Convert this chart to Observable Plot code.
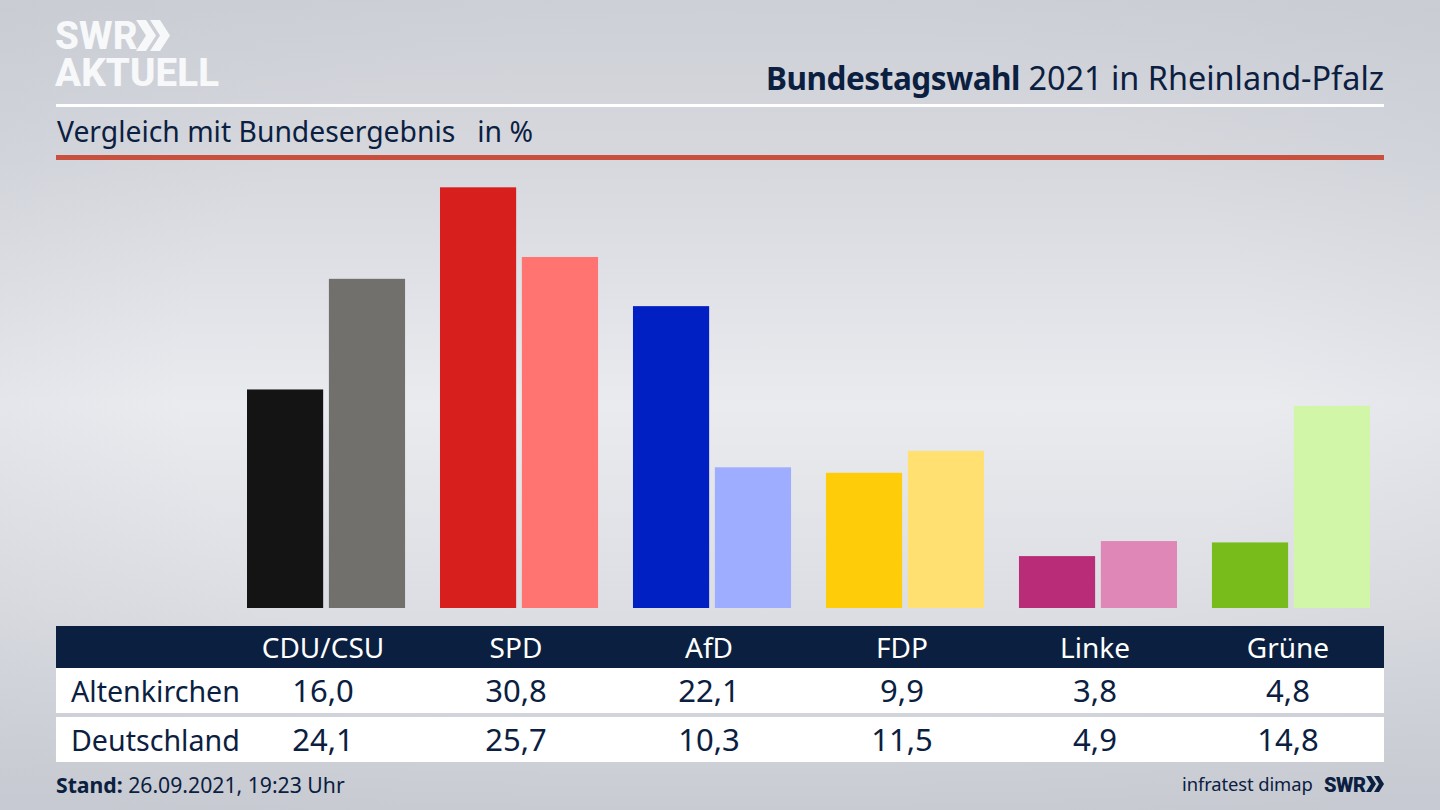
<!DOCTYPE html>
<html lang="de">
<head>
<meta charset="utf-8">
<script src="https://cdn.jsdelivr.net/npm/d3@7"></script>
<script src="https://cdn.jsdelivr.net/npm/@observablehq/plot@0.6"></script>
<style>
  html, body { margin: 0; padding: 0; }
  body {
    position: relative; width: 1440px; height: 810px; overflow: hidden;
    font-family: "Noto Sans", sans-serif; color: #0b2040;
    background:
      radial-gradient(ellipse 900px 600px at 50% 47%, rgba(236,238,242,.0) 60%, rgba(190,194,203,.25) 100%),
      linear-gradient(180deg, #cdd0d6 0%, #d6d8de 20%, #e9ebef 50%, #dcdee3 75%, #c9ccd3 100%);
  }
  .abs { position: absolute; white-space: nowrap; }
  #logo { left: 55px; top: 17px; font: 800 38.5px/37px Roboto, sans-serif; color: #f7f8f9; letter-spacing: .1px; white-space: pre; }
  #title { right: 56px; top: 55px; font-size: 32.4px; line-height: 44px; }
  #title b { font-weight: 700; font-size: 31.5px; letter-spacing: -.45px; }
  #rule1 { left: 56px; width: 1328px; top: 104px; height: 3px; background: #fff; }
  #sub { left: 57px; top: 112px; font-size: 28.3px; line-height: 38px; white-space: pre; }
  #rule2 { left: 56px; width: 1328px; top: 155px; height: 5px; background: #c8503c; }
  #chart { left: 0; top: 160px; }
  #chart svg { background: transparent; display: block; }
  #tbl { left: 56px; top: 626px; width: 1328px; font-size: 28px; }
  .row { display: grid; grid-template-columns: 170.5px repeat(6, 193px) 0; align-items: center; }
  .row > div { text-align: center; }
  .row > .lbl { text-align: left; padding-left: 15px; font-size: 28.6px; }
  .head { height: 42px; background: #0b2040; color: #fff; }
  .body { height: 45px; background: #fff; font-size: 31px; line-height: 43px; }
  .body + .body { margin-top: 4px; }
  #stand { left: 56px; top: 770px; font-size: 21.2px; line-height: 30px; }
  #src { left: 1182px; top: 769px; font-size: 18.4px; line-height: 30px; letter-spacing: -.1px; }
  #swr { left: 1324px; top: 770px; font: 900 20px/30px Roboto, sans-serif; letter-spacing: -.5px; }
  svg.chev { position: absolute; }
</style>
</head>
<body>
<div class="abs" id="logo"></div>
<svg class="chev" style="left:136px;top:20px" width="36" height="32"><path fill="#f7f8f9" d="M0 0h10l10 15.5L10 31H0l10-15.5zM14 0h10l10 15.5L24 31H14l10-15.5z"/></svg>
<div class="abs" id="title"></div>
<div class="abs" id="rule1"></div>
<div class="abs" id="sub"></div>
<div class="abs" id="rule2"></div>
<div class="abs" id="chart"></div>
<div class="abs" id="tbl"></div>
<div class="abs" id="stand"></div>
<div class="abs" id="src">infratest dimap</div>
<div class="abs" id="swr">SWR</div>
<svg class="chev" style="left:1366px;top:776px" width="18" height="17"><path fill="#0b2040" d="M0 0h5l5 8-5 8H0l5-8zM8 0h5l5 8-5 8H8l5-8z"/></svg>
<script>
const logoText = "SWR\nAKTUELL";
const titleBold = "Bundestagswahl";
const titleRest = " 2021 in Rheinland-Pfalz";
const subtitle = "Vergleich mit Bundesergebnis   in %";
const standLabel = "Stand:";
const standText = " 26.09.2021, 19:23 Uhr";

const parties = ["CDU/CSU", "SPD", "AfD", "FDP", "Linke", "Grüne"];
const regions = ["Altenkirchen", "Deutschland"];
const altenkirchen = [16.0, 30.8, 22.1, 9.9, 3.8, 4.8];
const deutschland = [24.1, 25.7, 10.3, 11.5, 4.9, 14.8];
const colorsLocal = ["#141414", "#d7201e", "#0020c4", "#ffcc0a", "#b92d78", "#78bc1c"];
const colorsFederal = ["#72706d", "#ff7370", "#9eadff", "#ffe070", "#df88b8", "#d2f6a8"];

// long format for the bars, one row per party and region
const rows = parties.flatMap((p, i) => [
  {party: p, region: regions[0], value: altenkirchen[i], color: colorsLocal[i]},
  {party: p, region: regions[1], value: deutschland[i], color: colorsFederal[i]}
]);

const fmt = v => v.toFixed(1).replace(".", ",");

const plot = Plot.plot({
  width: 1440,
  height: 448,
  marginTop: 0,
  marginBottom: 0,
  marginLeft: 247,
  marginRight: 70,
  style: {background: "transparent"},
  fx: {domain: parties, axis: null, paddingInner: 0.181, paddingOuter: 0, round: false},
  x: {domain: regions, axis: null, paddingInner: 0.07, paddingOuter: 0, round: false},
  y: {domain: [0, 32.8], axis: null},
  color: {type: "identity"},
  marks: [
    Plot.barY(rows, {fx: "party", x: "region", y: "value", fill: "color"})
  ]
});
document.querySelector("#chart").append(plot);

// header and table
d3.select("#logo").text(logoText);
d3.select("#title").html(`<b>${titleBold}</b>${titleRest}`);
d3.select("#sub").text(subtitle);
d3.select("#stand").html(`<b>${standLabel}</b>${standText}`);

const tbl = d3.select("#tbl");
const head = tbl.append("div").attr("class", "row head");
head.append("div").attr("class", "lbl");
parties.forEach(p => head.append("div").text(p));
[altenkirchen, deutschland].forEach((vals, i) => {
  const r = tbl.append("div").attr("class", "row body");
  r.append("div").attr("class", "lbl").text(regions[i]);
  vals.forEach(v => r.append("div").text(fmt(v)));
});
</script>
</body>
</html>
